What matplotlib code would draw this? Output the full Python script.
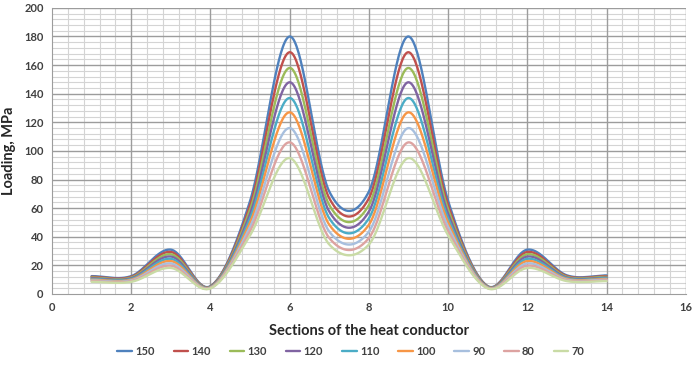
import numpy as np
import matplotlib
matplotlib.use("Agg")
import matplotlib.pyplot as plt
from matplotlib.ticker import MultipleLocator

sections = [1, 2, 3, 4, 5, 6, 7, 8, 9, 10, 11, 12, 13, 14]
labels = ["150", "140", "130", "120", "110", "100", "90", "80", "70"]
s150 = [12.5, 12.5, 31.0, 5.5, 65, 180, 71.6, 71.6, 180, 65, 5.5, 31.0, 13.0, 13.0]
s140 = [12.0, 12.0, 29.4, 5.3, 62, 169, 66.9, 66.9, 169, 62, 5.3, 29.4, 12.5, 12.5]
s130 = [11.5, 11.5, 27.8, 5.1, 59, 158, 62.2, 62.2, 158, 59, 5.1, 27.8, 12.0, 12.0]
s120 = [11.0, 11.0, 26.2, 4.9, 56, 148, 57.6, 57.6, 148, 56, 4.9, 26.2, 11.5, 11.5]
s110 = [10.5, 10.5, 24.6, 4.7, 53, 137, 52.9, 52.9, 137, 53, 4.7, 24.6, 11.0, 11.0]
s100 = [10.0, 10.0, 23.0, 4.5, 50, 127, 48.4, 48.4, 127, 50, 4.5, 23.0, 10.5, 10.5]
s90 = [9.5, 9.5, 21.4, 4.3, 47, 116, 43.6, 43.6, 116, 47, 4.3, 21.4, 10.0, 10.0]
s80 = [9.0, 9.0, 19.8, 4.1, 44, 106, 39.1, 39.1, 106, 44, 4.1, 19.8, 9.5, 9.5]
s70 = [8.5, 8.5, 18.2, 3.9, 41, 95, 34.6, 34.6, 95, 41, 3.9, 18.2, 9.0, 9.0]
series = [s150, s140, s130, s120, s110, s100, s90, s80, s70]
colors = ["#4F81BD", "#C0504D", "#9BBB59", "#8064A2", "#4BACC6",
          "#F79646", "#A7BFDE", "#DDA3A1", "#C9DBA5"]


def smooth(xs, ys, n=40):
    xs = np.asarray(xs, float)
    ys = np.asarray(ys, float)
    m = np.zeros_like(ys)
    m[1:-1] = (ys[2:] - ys[:-2]) / (xs[2:] - xs[:-2])
    m[0] = 0.0
    m[-1] = 0.0
    ox, oy = [], []
    for i in range(len(xs) - 1):
        h = xs[i + 1] - xs[i]
        t = np.linspace(0, 1, n, endpoint=False)
        h00 = 2 * t**3 - 3 * t**2 + 1
        h10 = t**3 - 2 * t**2 + t
        h01 = -2 * t**3 + 3 * t**2
        h11 = t**3 - t**2
        oy.append(h00 * ys[i] + h10 * h * m[i] + h01 * ys[i + 1] + h11 * h * m[i + 1])
        ox.append(xs[i] + t * h)
    ox.append([xs[-1]])
    oy.append([ys[-1]])
    return np.concatenate(ox), np.concatenate(oy)


fig = plt.figure(figsize=(6.95, 3.75), dpi=100)
ax = fig.add_axes([0.0748, 0.216, 0.912, 0.763])

for ys, c, lab in zip(series, colors, labels):
    sx, sy = smooth(sections, ys)
    ax.plot(sx, sy, color=c, lw=1.7, label=lab, solid_capstyle="round", zorder=3)

ax.set_xlim(0, 16)
ax.set_ylim(0, 200)
ax.xaxis.set_major_locator(MultipleLocator(2))
ax.xaxis.set_minor_locator(MultipleLocator(0.4))
ax.yaxis.set_major_locator(MultipleLocator(20))
ax.yaxis.set_minor_locator(MultipleLocator(4))
ax.grid(which="minor", color="#D4D4D4", lw=0.8)
ax.set_axisbelow(True)
for xv in ax.get_xticks():
    if 0 < xv <= 16:
        ax.axvline(xv, color="#9C9C9C", lw=1.0, zorder=1)
for yv in ax.get_yticks():
    if 0 < yv <= 200:
        ax.axhline(yv, color="#9C9C9C", lw=1.0, zorder=1)
ax.set_xlim(0, 16)
ax.set_ylim(0, 200)
for sp in ["top", "right"]:
    ax.spines[sp].set_visible(False)
for sp in ["left", "bottom"]:
    ax.spines[sp].set_color("#9C9C9C")
ax.tick_params(which="both", length=0, labelsize=8, labelcolor="#404040", pad=6)
for lbl in ax.get_xticklabels() + ax.get_yticklabels():
    lbl.set_fontweight("bold")
    lbl.set_family("Lato")

ax.set_xlabel("Sections of the heat conductor", fontsize=10.5, fontweight="bold",
              family="Lato", color="#262626", labelpad=8)
ax.set_ylabel("Loading, MPa", fontsize=10.5, fontweight="bold",
              family="Lato", color="#262626", labelpad=6)

leg = fig.legend(loc="center", bbox_to_anchor=(0.505, 0.062), ncol=9, frameon=False,
                 handlelength=1.3, handletextpad=0.3, columnspacing=1.7,
                 prop={"family": "Lato", "weight": "bold", "size": 8})
for t in leg.get_texts():
    t.set_color("#404040")

fig.savefig("out.png", dpi=100)
